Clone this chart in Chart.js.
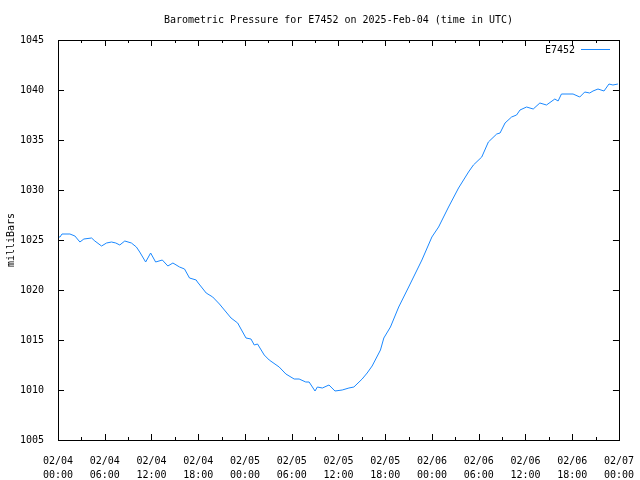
<!DOCTYPE html>
<html>
<head>
<meta charset="utf-8">
<script src="https://cdn.jsdelivr.net/npm/chart.js@4"></script>
<style>
  html, body { margin: 0; padding: 0; background: #fff; }
  #wrap { width: 640px; height: 480px; }
</style>
</head>
<body>
<div id="wrap"><canvas id="chart" width="640" height="480"></canvas></div>
<script>
// hours since 2025-02-04 00:00 UTC
const hours = [0, 0.26, 0.51, 1.53, 2.17, 2.81, 3.32, 4.31, 4.73, 5.59, 6.23, 6.87, 7.42, 7.93, 8.57,
  9.42, 10.06, 10.49, 11.25, 11.89, 12.53, 13.39, 14.1, 14.75, 15.6, 16.24, 16.88, 17.74, 17.9,
  19.02, 19.86, 20.72, 22.21, 23.06, 24.13, 24.77, 25.19, 25.61, 26.47, 27.11, 28.39, 29.25,
  30.31, 30.95, 31.8, 32.23, 32.99, 33.29, 33.93, 34.78, 35.55, 36.48, 37.34, 37.98, 39.04,
  39.68, 40.32, 41.39, 41.82, 42.67, 43.73, 45.01, 46.71, 47.99, 48.85, 50.13, 51.41, 52.69,
  53.32, 54.39, 55.24, 56.31, 56.74, 57.38, 58.22, 58.86, 59.3, 60.14, 61.0, 61.85, 62.7,
  63.77, 64.19, 64.62, 66.11, 66.97, 67.61, 68.25, 68.67, 69.31, 70.08, 70.72, 71.23, 71.87];
const pressure = [1025.3, 1025.3, 1025.6, 1025.6, 1025.4, 1024.8, 1025.1, 1025.2, 1024.9, 1024.4,
  1024.7, 1024.8, 1024.7, 1024.5, 1024.9, 1024.7, 1024.3, 1023.8, 1022.8, 1023.7, 1022.8,
  1023.0, 1022.4, 1022.7, 1022.3, 1022.1, 1021.2, 1021.0, 1020.8, 1019.7, 1019.3, 1018.6,
  1017.2, 1016.7, 1015.2, 1015.1, 1014.5, 1014.6, 1013.5, 1013.0, 1012.3, 1011.6, 1011.1,
  1011.1, 1010.8, 1010.8, 1009.9, 1010.3, 1010.2, 1010.5, 1009.9, 1010.0, 1010.2, 1010.3,
  1011.1, 1011.7, 1012.4, 1014.0, 1015.2, 1016.3, 1018.3, 1020.3, 1023.0, 1025.3, 1026.3,
  1028.3, 1030.2, 1031.8, 1032.5, 1033.3, 1034.8, 1035.6, 1035.7, 1036.7, 1037.3, 1037.5,
  1038.0, 1038.3, 1038.1, 1038.7, 1038.5, 1039.1, 1038.9, 1039.6, 1039.6, 1039.3, 1039.8,
  1039.7, 1039.9, 1040.1, 1039.9, 1040.6, 1040.5, 1040.6];

const xTickHours = [0, 6, 12, 18, 24, 30, 36, 42, 48, 54, 60, 66, 72];
const xTickDates = ['02/04', '02/04', '02/04', '02/04', '02/05', '02/05', '02/05', '02/05',
  '02/06', '02/06', '02/06', '02/06', '02/07'];
const xTickTimes = ['00:00', '06:00', '12:00', '18:00', '00:00', '06:00', '12:00', '18:00',
  '00:00', '06:00', '12:00', '18:00', '00:00'];
const yTicks = [1005, 1010, 1015, 1020, 1025, 1030, 1035, 1040, 1045];

const titleText = 'Barometric Pressure for E7452 on 2025-Feb-04 (time in UTC)';
const seriesName = 'E7452';
const yLabel = 'milliBars';
const lineColor = '#1a88ff';
const monoFont = '"DejaVu Sans Mono", "Liberation Mono", monospace';

const points = hours.map((h, i) => ({ x: h, y: pressure[i] }));

// gnuplot-like frame, inward ticks on all sides, title, legend, y label
const framePlugin = {
  id: 'frame',
  afterDraw(chart) {
    const ctx = chart.ctx;
    const a = chart.chartArea;
    const xs = chart.scales.x;
    const ys = chart.scales.y;
    ctx.save();
    ctx.strokeStyle = '#000';
    ctx.lineWidth = 1;
    ctx.strokeRect(Math.round(a.left) + 0.5, Math.round(a.top) + 0.5,
      Math.round(a.right - a.left), Math.round(a.bottom - a.top));
    ctx.beginPath();
    for (let h = 0; h <= 72; h += 3) {
      const px = Math.round(xs.getPixelForValue(h)) + 0.5;
      const len = (h % 6 === 0) ? 6 : 3;
      ctx.moveTo(px, a.bottom); ctx.lineTo(px, a.bottom - len);
      ctx.moveTo(px, a.top); ctx.lineTo(px, a.top + len);
    }
    yTicks.forEach(v => {
      const py = Math.round(ys.getPixelForValue(v)) + 0.5;
      ctx.moveTo(a.left, py); ctx.lineTo(a.left + 6, py);
      ctx.moveTo(a.right, py); ctx.lineTo(a.right - 6, py);
    });
    ctx.stroke();

    ctx.fillStyle = '#000';
    ctx.font = '10px ' + monoFont;
    ctx.textBaseline = 'middle';
    ctx.textAlign = 'center';
    ctx.fillText(titleText, (a.left + a.right) / 2, 20);

    ctx.textAlign = 'right';
    ctx.fillText(seriesName, 575, 50);
    ctx.strokeStyle = lineColor;
    ctx.beginPath();
    ctx.moveTo(581, 49.5); ctx.lineTo(610, 49.5);
    ctx.stroke();

    ctx.translate(11, (a.top + a.bottom) / 2);
    ctx.rotate(-Math.PI / 2);
    ctx.textAlign = 'center';
    ctx.fillText(yLabel, 0, 0);
    ctx.restore();
  }
};

new Chart(document.getElementById('chart').getContext('2d'), {
  type: 'line',
  data: {
    datasets: [{
      label: seriesName,
      data: points,
      borderColor: lineColor,
      borderWidth: 1,
      pointRadius: 0,
      tension: 0,
      fill: false
    }]
  },
  options: {
    responsive: false,
    animation: false,
    events: [],
    layout: { padding: { top: 40, right: 19, left: 0, bottom: 0 } },
    plugins: {
      legend: { display: false },
      title: { display: false },
      tooltip: { enabled: false }
    },
    scales: {
      x: {
        type: 'linear',
        min: 0,
        max: 72,
        afterFit(scale) { scale.height = 40; },
        afterBuildTicks(scale) { scale.ticks = xTickHours.map(v => ({ value: v })); },
        grid: { display: false },
        border: { display: false },
        ticks: {
          padding: 6,
          maxRotation: 0,
          autoSkip: false,
          color: '#000',
          font: { family: monoFont, size: 10, lineHeight: 1.4 },
          callback(value) {
            const i = xTickHours.indexOf(value);
            return i < 0 ? '' : [xTickDates[i], xTickTimes[i]];
          }
        }
      },
      y: {
        min: 1005,
        max: 1045,
        afterFit(scale) { scale.width = 58; },
        afterBuildTicks(scale) { scale.ticks = yTicks.map(v => ({ value: v })); },
        grid: { display: false },
        border: { display: false },
        ticks: {
          padding: 6,
          color: '#000',
          font: { family: monoFont, size: 10 },
          callback: v => String(v)
        }
      }
    }
  },
  plugins: [framePlugin]
});
</script>
</body>
</html>
